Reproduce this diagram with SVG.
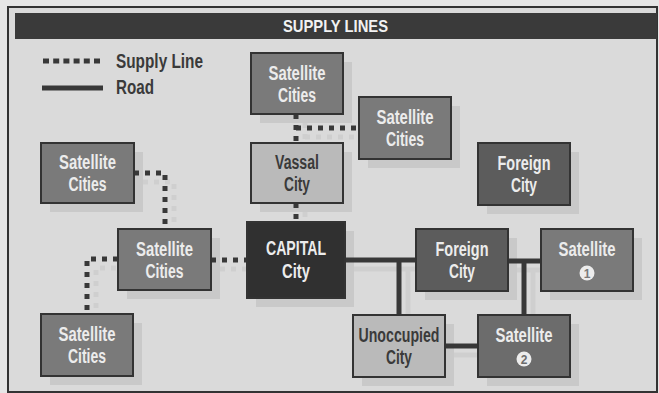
<svg xmlns="http://www.w3.org/2000/svg" width="659" height="393" viewBox="0 0 659 393">
<style>
text{font-family:"Liberation Sans",Arial,sans-serif;font-weight:bold;text-anchor:middle}
.box{stroke:#333;stroke-width:2}
.sh{fill:#c9c9c9}
.sat{fill:#7a7a7a}
.sat2{fill:#6c6c6c}
.for{fill:#5c5c5c}
.cap{fill:#303030}
.lt{fill:#bababa}
.w{fill:#ececec;font-size:19.5px}
.d{fill:#3a3a3a;font-size:19.5px}
.sup{fill:none;stroke:#383838;stroke-width:5;stroke-dasharray:5 6}
.road{fill:none;stroke:#383838;stroke-width:5}
.shl{stroke:#cfcfcf}
</style>
<rect x="0" y="0" width="659" height="393" fill="#e6e6e6"/>
<rect x="8" y="7" width="649" height="385" fill="#dadada" stroke="#333" stroke-width="2"/>
<rect x="15" y="13" width="642" height="26" fill="#3a3a3a"/>
<text x="335.5" y="32" style="fill:#f2f2f2;font-size:17px" textLength="105" lengthAdjust="spacingAndGlyphs">SUPPLY LINES</text>
<g id="legend">
<path d="M43 61 H103" fill="none" stroke="#383838" stroke-width="5" stroke-dasharray="6 4.2"/>
<path d="M42 88 H103" fill="none" stroke="#383838" stroke-width="5"/>
<text x="116" y="68" style="fill:#3a3a3a;font-size:20px;text-anchor:start" textLength="87" lengthAdjust="spacingAndGlyphs">Supply Line</text>
<text x="116" y="94" style="fill:#3a3a3a;font-size:20px;text-anchor:start" textLength="38" lengthAdjust="spacingAndGlyphs">Road</text>
</g>
<g id="shadows" class="sh">
<g transform="translate(9,9)">
<rect x="251" y="53" width="92" height="61"/>
<rect x="359" y="97" width="92" height="62"/>
<rect x="251" y="143" width="92" height="60"/>
<rect x="478" y="143" width="92" height="62"/>
<rect x="41" y="143" width="93" height="60"/>
<rect x="118" y="229" width="93" height="61"/>
<rect x="247" y="222" width="98" height="76"/>
<rect x="41" y="314" width="92" height="62"/>
<rect x="416" y="229" width="92" height="62"/>
<rect x="541" y="229" width="92" height="62"/>
<rect x="353" y="315" width="92" height="62"/>
<rect x="478" y="315" width="92" height="62"/>
<path class="sup shl" d="M296 114 V143 M296 128 H359 M296 203 V222 M134 173 H165 V229 M211 260 H247 M118 259 H87 V314"/>
<path class="road shl" d="M345 260 H416 M399 260 V315 M508 261 H541 M524 261 V315 M445 346 H478"/>
</g>
</g>
<g id="connectors">
<path class="sup" d="M296 114 V143"/>
<path class="sup" d="M296 128 H359"/>
<path class="sup" d="M296 203 V222"/>
<path class="sup" d="M134 173 H165 V229"/>
<path class="sup" d="M211 260 H247"/>
<path class="sup" d="M118 259 H87 V314"/>
<path class="road" d="M345 260 H416"/>
<path class="road" d="M399 260 V315"/>
<path class="road" d="M508 261 H541"/>
<path class="road" d="M524 261 V315"/>
<path class="road" d="M445 346 H478"/>
</g>
<g id="sat-top"><rect class="box sat" x="251" y="53" width="92" height="61"/><text class="w" x="297" y="80" textLength="57" lengthAdjust="spacingAndGlyphs">Satellite</text><text class="w" x="297" y="102" textLength="38" lengthAdjust="spacingAndGlyphs">Cities</text></g>
<g id="sat-right-top"><rect class="box sat" x="359" y="97" width="92" height="62"/><text class="w" x="405" y="124" textLength="57" lengthAdjust="spacingAndGlyphs">Satellite</text><text class="w" x="405" y="146" textLength="38" lengthAdjust="spacingAndGlyphs">Cities</text></g>
<g id="vassal"><rect class="box lt" x="251" y="143" width="92" height="60"/><text class="d" x="297" y="169" textLength="44" lengthAdjust="spacingAndGlyphs">Vassal</text><text class="d" x="297" y="191" textLength="26" lengthAdjust="spacingAndGlyphs">City</text></g>
<g id="foreign-top"><rect class="box for" x="478" y="143" width="92" height="62"/><text class="w" x="524" y="170" textLength="53" lengthAdjust="spacingAndGlyphs">Foreign</text><text class="w" x="524" y="192" textLength="26" lengthAdjust="spacingAndGlyphs">City</text></g>
<g id="sat-left-top"><rect class="box sat" x="41" y="143" width="93" height="60"/><text class="w" x="87.5" y="169" textLength="57" lengthAdjust="spacingAndGlyphs">Satellite</text><text class="w" x="87.5" y="191" textLength="38" lengthAdjust="spacingAndGlyphs">Cities</text></g>
<g id="sat-mid"><rect class="box sat" x="118" y="229" width="93" height="61"/><text class="w" x="164.5" y="256" textLength="57" lengthAdjust="spacingAndGlyphs">Satellite</text><text class="w" x="164.5" y="278" textLength="38" lengthAdjust="spacingAndGlyphs">Cities</text></g>
<g id="capital"><rect class="box cap" x="247" y="222" width="98" height="76"/><text class="w" x="296" y="255" style="font-size:21px" textLength="60" lengthAdjust="spacingAndGlyphs">CAPITAL</text><text class="w" x="296" y="278" style="font-size:21px" textLength="28" lengthAdjust="spacingAndGlyphs">City</text></g>
<g id="sat-bottom-left"><rect class="box sat" x="41" y="314" width="92" height="62"/><text class="w" x="87" y="341" textLength="57" lengthAdjust="spacingAndGlyphs">Satellite</text><text class="w" x="87" y="363" textLength="38" lengthAdjust="spacingAndGlyphs">Cities</text></g>
<g id="foreign-mid"><rect class="box for" x="416" y="229" width="92" height="62"/><text class="w" x="462" y="256" textLength="53" lengthAdjust="spacingAndGlyphs">Foreign</text><text class="w" x="462" y="278" textLength="26" lengthAdjust="spacingAndGlyphs">City</text></g>
<g id="sat1"><rect class="box sat" x="541" y="229" width="92" height="62"/><text class="w" x="587" y="256" textLength="57" lengthAdjust="spacingAndGlyphs">Satellite</text><circle cx="587" cy="273" r="7.5" fill="#ececec"/><text x="587" y="277.5" style="fill:#7a7a7a;font-size:12px">1</text></g>
<g id="unoccupied"><rect class="box lt" x="353" y="315" width="92" height="62"/><text class="d" x="399" y="342" textLength="81" lengthAdjust="spacingAndGlyphs">Unoccupied</text><text class="d" x="399" y="364" textLength="26" lengthAdjust="spacingAndGlyphs">City</text></g>
<g id="sat2"><rect class="box sat2" x="478" y="315" width="92" height="62"/><text class="w" x="524" y="342" textLength="57" lengthAdjust="spacingAndGlyphs">Satellite</text><circle cx="524" cy="359" r="7.5" fill="#ececec"/><text x="524" y="363.5" style="fill:#6c6c6c;font-size:12px">2</text></g>
</svg>
